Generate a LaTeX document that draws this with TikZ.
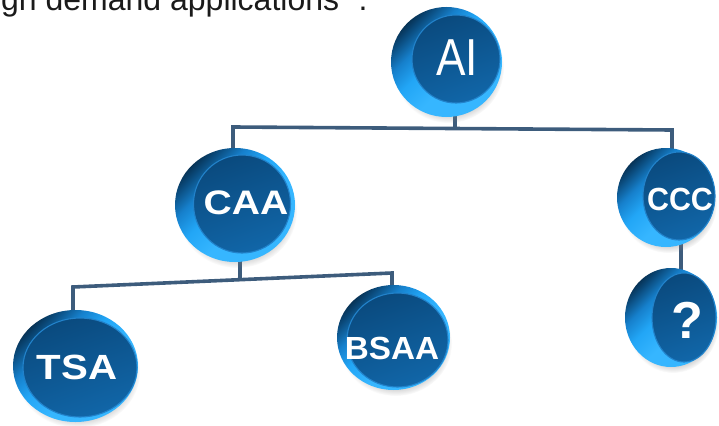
\documentclass[tikz,border=0pt]{standalone}
\usepackage{fontspec}
\setmainfont{Liberation Sans}
\usetikzlibrary{shadows,backgrounds}

\definecolor{rimdark}{HTML}{031A2E}
\definecolor{rimdeep}{HTML}{0A4878}
\definecolor{rimmid}{HTML}{1680CC}
\definecolor{rimbright}{HTML}{22A6F6}
\definecolor{rimglow}{HTML}{36B6FF}
\definecolor{facetop}{HTML}{0A4A7E}
\definecolor{facebot}{HTML}{1166A8}
\definecolor{faceedge}{HTML}{2282CA}
\definecolor{linkblue}{HTML}{3D5C7C}
\definecolor{captiongray}{HTML}{1A1A1A}

% side wall of a button: bright below, dark toward the upper edge
\pgfdeclareverticalshading{rimshading}{100bp}{%
  color(0bp)=(rimglow); color(43bp)=(rimglow); color(55bp)=(rimbright);
  color(64bp)=(rimmid); color(72bp)=(rimdeep); color(79bp)=(rimdark);
  color(100bp)=(rimdark)}

\tikzset{
  link/.style={draw=linkblue, line width=3.6pt, line join=miter},
  rimshade/.style={shading=rimshading, shading angle=45},
  faceshade/.style={top color=facetop, bottom color=facebot, shading angle=20, draw=faceedge, line width=1.1pt},
  coinshadow/.style={circular drop shadow={shadow xshift=2pt, shadow yshift=-6pt, shadow scale=1.0, opacity=0.35}},
  coinlabel/.style={text=white, inner sep=0pt, font=\bfseries\fontsize{34}{34}\selectfont},
}

% #1,#2 centre of the button body, #3,#4 its radii;
% #5,#6 centre of the front face, #7,#8 its radii
\newcommand\coinbody[8]{%
  \shade[coinshadow, rimshade] (#1,#2) ellipse [x radius=#3pt, y radius=#4pt];
  \shade[faceshade] (#5,#6) ellipse [x radius=#7pt, y radius=#8pt];
}

\begin{document}
\begin{tikzpicture}[x=1pt, y=-1pt]
\useasboundingbox (0,0) rectangle (719,425);

% caption line cut by the top edge
\node[anchor=base west, inner sep=0pt, text=captiongray, font=\fontsize{32}{32}\selectfont]
  (caption) at (1,11) {gh demand applications\textquotedblright\ .};

% buttons
\coinbody{446.5}{62}{55.5}{55}{456}{59}{44}{44}
\node[coinlabel, font=\fontsize{52}{52}\selectfont] (ai) at (457,58) {\scalebox{0.85}[1]{AI}};

\coinbody{235}{205}{60}{57}{242}{204}{48.5}{49}
\node[coinlabel] (caa) at (246,203) {\scalebox{1.15}[1]{CAA}};

\coinbody{666}{197.5}{49}{49.5}{679}{196}{36}{44}
\node[coinlabel, font=\bfseries\fontsize{32}{32}\selectfont] (ccc) at (680,199) {\scalebox{0.95}[1]{CCC}};

\coinbody{671}{317.5}{46}{49.5}{684}{317.5}{32}{44.5}
\node[coinlabel, font=\bfseries\fontsize{52}{52}\selectfont] (q) at (687,320) {?};

\coinbody{75.5}{366}{62.5}{56}{80}{367.5}{57}{49.5}
\node[coinlabel, font=\bfseries\fontsize{35}{35}\selectfont] (tsa) at (77,367) {\scalebox{1.15}[1]{TSA}};

\coinbody{393.5}{337.5}{56.5}{52.5}{397.5}{340}{50.5}{47}
\node[coinlabel, font=\bfseries\fontsize{32}{32}\selectfont] (bsaa) at (392,348) {\scalebox{1.04}[1]{BSAA}};

% tree connectors behind the buttons
\begin{scope}[on background layer]
  \coordinate (busA) at (455,127);
  \coordinate (busAL) at (233,127);
  \coordinate (busAR) at (672,130);
  \coordinate (busB) at (240,280);
  \coordinate (busBL) at (73,287);
  \coordinate (busBR) at (392,273);
  \coordinate (cq) at (681,0);
  \draw[link] (ai.center -| busA) -- (busA);
  \draw[link] (caa.center -| busAL) -- (busAL) -- (busAR) -- (ccc.center -| busAR);
  \draw[link] (caa.center -| busB) -- (busB);
  \draw[link] (tsa.center -| busBL) -- (busBL) -- (busBR) -- (bsaa.center -| busBR);
  \draw[link] (ccc.center -| cq) -- (q.center -| cq);
\end{scope}
\end{tikzpicture}
\end{document}
